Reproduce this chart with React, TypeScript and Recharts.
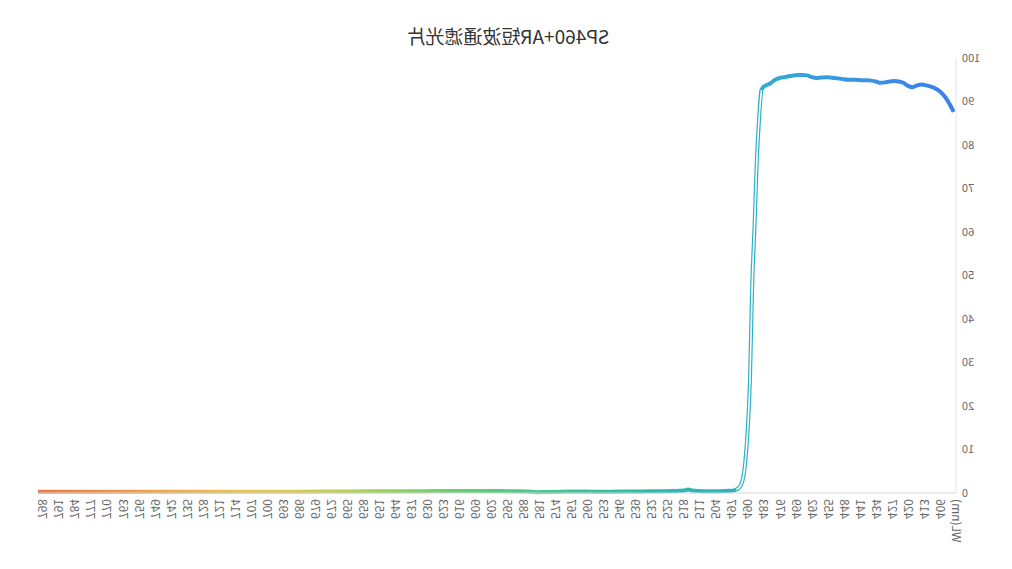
import React from "react";
import { LineChart, Line, XAxis, YAxis } from "recharts";

// transmission curve of the filter, sampled denser where it changes
const wavelengths = [
  400, 402, 404, 406, 408, 410, 412, 414, 416, 418, 420, 422, 424, 426, 428, 430, 432, 434, 436, 438,
  440, 443, 446, 449, 452, 455, 458, 460, 462, 464, 466, 468, 470, 472, 474, 476, 478, 480, 482, 483,
  484, 485, 486, 487, 488, 489, 490, 491, 492, 493, 494, 495, 496, 498, 500, 504, 508, 511, 514, 516,
  518, 522, 529, 536, 543, 550, 557, 564, 571, 578, 582, 586, 592, 599, 606, 613, 620, 627, 634, 648,
  662, 676, 690, 704, 718, 732, 746, 760, 774, 788, 800,
];
const transmittance = [
  87.6, 89.6, 91.2, 92.3, 93.0, 93.4, 93.7, 93.9, 93.7, 93.3, 93.6, 94.3, 94.6, 94.7, 94.6, 94.4, 94.3, 94.6, 94.8, 94.9,
  94.9, 95.0, 95.0, 95.2, 95.4, 95.6, 95.5, 95.4, 95.6, 96.0, 96.1, 96.1, 96.0, 95.8, 95.6, 95.4, 95.0, 94.2, 93.7, 93.4,
  92.6, 86.2, 76.6, 61.4, 48.3, 26.0, 14.5, 7.4, 3.4, 1.8, 1.1, 0.8, 0.6, 0.5, 0.45, 0.4, 0.4, 0.45, 0.55, 0.8,
  0.55, 0.45, 0.4, 0.35, 0.35, 0.3, 0.3, 0.35, 0.3, 0.25, 0.2, 0.35, 0.4, 0.45, 0.45, 0.45, 0.45, 0.45, 0.4, 0.4,
  0.35, 0.35, 0.3, 0.3, 0.3, 0.3, 0.3, 0.3, 0.3, 0.3, 0.3,
];

const xTicks = [
  399, 406, 413, 420, 427, 434, 441, 448, 455, 462, 469, 476, 483, 490, 497, 504, 511, 518, 525, 532,
  539, 546, 553, 560, 567, 574, 581, 588, 595, 602, 609, 616, 623, 630, 637, 644, 651, 658, 665, 672,
  679, 686, 693, 700, 707, 714, 721, 728, 735, 742, 749, 756, 763, 770, 777, 784, 791, 798,
];
const yTicks = [0, 10, 20, 30, 40, 50, 60, 70, 80, 90, 100];

const title = "SP460+AR短波通滤光片";
const axisName = "WL(nm)";

const rows = wavelengths.map((wl, i) => ({ wl, t: transmittance[i] }));
// the steep edge is drawn hollow in the original
const edgeRows = rows.filter((r) => r.wl >= 484 && r.wl <= 495);

const font = '"Noto Sans CJK SC", "Noto Sans", sans-serif';

function XTick(props: any) {
  const { x, y, payload } = props;
  const label = payload.value === 399 ? axisName : String(payload.value);
  return (
    <g transform={`translate(${x},${y})`}>
      <text transform="rotate(-90)" textAnchor="end" dy="0.35em" fontSize={12} fill="#666" fontFamily={font}>
        {label}
      </text>
    </g>
  );
}

export default function App() {
  return (
    <div
      style={{
        position: "absolute",
        left: 0,
        top: 0,
        width: 1012,
        height: 569,
        background: "#fff",
        transform: "scaleX(-1)",
        fontFamily: font,
      }}
    >
      <div
        style={{
          position: "absolute",
          left: 0,
          top: 25,
          width: 1008,
          textAlign: "center",
          fontSize: 19,
          lineHeight: "22px",
          color: "#333",
        }}
      >
        {title}
      </div>
      <LineChart width={1012} height={569} data={rows} margin={{ top: 58, right: 38, left: 6, bottom: 6 }}>
        <defs>
          <linearGradient id="specGrad" x1="0" y1="0" x2="1" y2="0">
            <stop offset="0%" stopColor="#3b7fee" />
            <stop offset="8%" stopColor="#3a8ee6" />
            <stop offset="17%" stopColor="#35a3da" />
            <stop offset="23%" stopColor="#2cb4c4" />
            <stop offset="33%" stopColor="#2dbaac" />
            <stop offset="43%" stopColor="#3cc794" />
            <stop offset="50%" stopColor="#56cc7c" />
            <stop offset="61%" stopColor="#8ed062" />
            <stop offset="68%" stopColor="#c4cf4e" />
            <stop offset="77%" stopColor="#e8c84c" />
            <stop offset="88%" stopColor="#eea24c" />
            <stop offset="100%" stopColor="#ef7848" />
          </linearGradient>
        </defs>
        <XAxis
          type="number"
          dataKey="wl"
          domain={[399, 800]}
          ticks={xTicks}
          interval={0}
          tick={<XTick />}
          tickLine={false}
          tickSize={4}
          tickMargin={2}
          height={70}
          axisLine={{ stroke: "#d6d6d6" }}
        />
        <YAxis
          domain={[0, 100]}
          ticks={yTicks}
          width={50}
          tickLine={false}
          tickSize={4}
          tickMargin={2}
          axisLine={{ stroke: "#e6e6e6" }}
          tick={{ fontSize: 11, fill: "#666", fontFamily: font }}
        />
        <Line
          type="monotone"
          dataKey="t"
          stroke="url(#specGrad)"
          strokeWidth={4}
          dot={false}
          isAnimationActive={false}
        />
        <Line
          data={edgeRows}
          type="monotone"
          dataKey="t"
          stroke="#ffffff"
          strokeWidth={1.6}
          dot={false}
          isAnimationActive={false}
        />
      </LineChart>
    </div>
  );
}
